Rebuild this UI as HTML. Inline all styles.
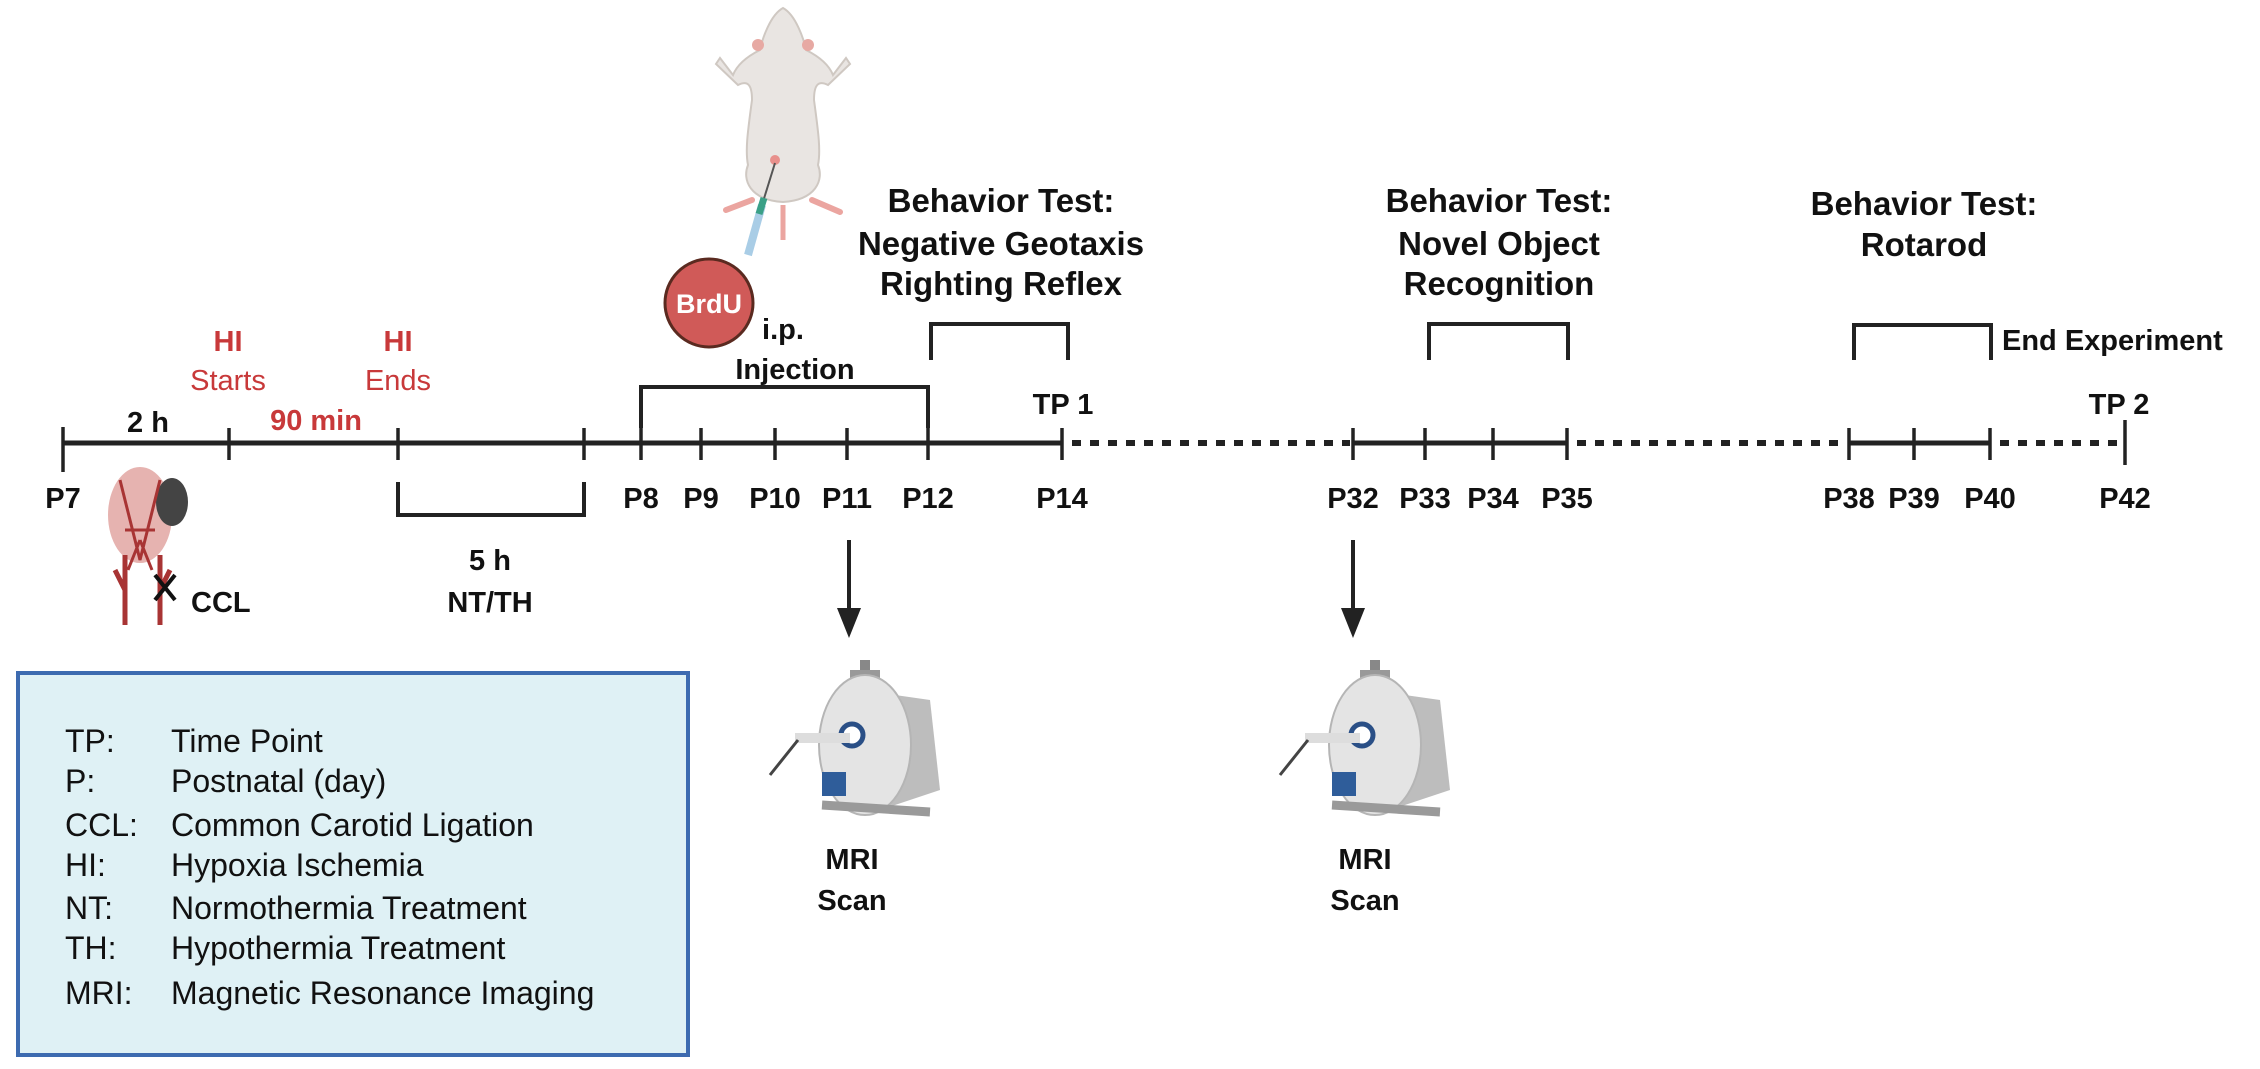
<!DOCTYPE html>
<html><head><meta charset="utf-8"><style>
html,body{margin:0;padding:0;background:#fff;}
svg{display:block;}
text{font-family:"Liberation Sans",sans-serif;}
.b{font-weight:bold;fill:#111;}
.r{fill:#c8393a;}
</style></head><body>
<svg width="2260" height="1069" viewBox="0 0 2260 1069" xmlns="http://www.w3.org/2000/svg">
<g stroke="#222" stroke-width="5" fill="none">
<line x1="63" y1="443" x2="1062" y2="443"/>
<line x1="1353" y1="443" x2="1567" y2="443"/>
<line x1="1849" y1="443" x2="1990" y2="443"/>
</g>
<g stroke="#222" stroke-width="6" stroke-dasharray="9 9" fill="none">
<line x1="1072" y1="443" x2="1350" y2="443"/>
<line x1="1577" y1="443" x2="1846" y2="443"/>
<line x1="2000" y1="443" x2="2120" y2="443"/>
</g>
<g stroke="#222" stroke-width="3.5">
<line x1="63" y1="427" x2="63" y2="472"/>
<line x1="229" y1="428" x2="229" y2="460"/>
<line x1="398" y1="428" x2="398" y2="460"/>
<line x1="584" y1="428" x2="584" y2="460"/>
<line x1="641" y1="428" x2="641" y2="460"/>
<line x1="701" y1="428" x2="701" y2="460"/>
<line x1="775" y1="428" x2="775" y2="460"/>
<line x1="847" y1="428" x2="847" y2="460"/>
<line x1="928" y1="428" x2="928" y2="460"/>
<line x1="1062" y1="428" x2="1062" y2="460"/>
<line x1="1353" y1="428" x2="1353" y2="460"/>
<line x1="1425" y1="428" x2="1425" y2="460"/>
<line x1="1493" y1="428" x2="1493" y2="460"/>
<line x1="1567" y1="428" x2="1567" y2="460"/>
<line x1="1849" y1="428" x2="1849" y2="460"/>
<line x1="1914" y1="428" x2="1914" y2="460"/>
<line x1="1990" y1="428" x2="1990" y2="460"/>
<line x1="2125" y1="420" x2="2125" y2="465"/>
</g>
<g stroke="#222" stroke-width="4" fill="none">
<polyline points="398,482 398,515 584,515 584,482"/>
<polyline points="641,428 641,387 928,387 928,428"/>
<polyline points="931,360 931,324 1068,324 1068,360"/>
<polyline points="1429,360 1429,324 1568,324 1568,360"/>
<polyline points="1854,360 1854,325 1991,325 1991,360"/>
</g>
<g class="b" font-size="29" text-anchor="middle">
<text x="63" y="508">P7</text>
<text x="641" y="508">P8</text>
<text x="701" y="508">P9</text>
<text x="775" y="508">P10</text>
<text x="847" y="508">P11</text>
<text x="928" y="508">P12</text>
<text x="1062" y="508">P14</text>
<text x="1353" y="508">P32</text>
<text x="1425" y="508">P33</text>
<text x="1493" y="508">P34</text>
<text x="1567" y="508">P35</text>
<text x="1849" y="508">P38</text>
<text x="1914" y="508">P39</text>
<text x="1990" y="508">P40</text>
<text x="2125" y="508">P42</text>
<text x="148" y="432">2 h</text>
<text x="490" y="570">5 h</text>
<text x="490" y="612">NT/TH</text>
<text x="1063" y="414">TP 1</text>
<text x="2119" y="414">TP 2</text>
<text x="852" y="869">MRI</text>
<text x="852" y="910">Scan</text>
<text x="1365" y="869">MRI</text>
<text x="1365" y="910">Scan</text>
<text x="783" y="339">i.p.</text>
<text x="795" y="379">Injection</text>
</g>
<text class="b" font-size="29" x="191" y="612">CCL</text>
<text class="b" font-size="29" x="2002" y="350">End Experiment</text>
<g class="b" font-size="33" text-anchor="middle">
<text x="1001" y="212">Behavior Test:</text>
<text x="1001" y="255">Negative Geotaxis</text>
<text x="1001" y="295">Righting Reflex</text>
<text x="1499" y="212">Behavior Test:</text>
<text x="1499" y="255">Novel Object</text>
<text x="1499" y="295">Recognition</text>
<text x="1924" y="215">Behavior Test:</text>
<text x="1924" y="256">Rotarod</text>
</g>
<g class="r" text-anchor="middle" font-size="29">
<text x="228" y="351" font-weight="bold">HI</text>
<text x="228" y="390">Starts</text>
<text x="398" y="351" font-weight="bold">HI</text>
<text x="398" y="390">Ends</text>
<text x="316" y="430" font-weight="bold">90 min</text>
</g>
<circle cx="709" cy="303" r="44" fill="#d05a58" stroke="#5a2a20" stroke-width="3"/>
<text x="709" y="313" text-anchor="middle" font-size="27" font-weight="bold" fill="#fff">BrdU</text>
<g>
<path d="M752,200 L726,210 M812,200 L840,212" stroke="#eba5a0" stroke-width="6" stroke-linecap="round"/>
<line x1="783" y1="205" x2="783" y2="240" stroke="#eba5a0" stroke-width="5"/>
<path d="M783,8 C770,15 762,40 760,50 C740,60 735,70 733,75 L720,58 L716,64 L738,85 C748,80 752,85 752,100 C748,130 745,150 748,165 C742,180 750,200 783,202 C816,200 824,180 818,165 C821,150 818,130 814,100 C814,85 818,80 828,85 L850,64 L846,58 L833,75 C831,70 826,60 806,50 C804,40 796,15 783,8 Z" fill="#e9e5e2" stroke="#cfc8c2" stroke-width="2"/>
<circle cx="758" cy="45" r="6" fill="#e7a9a3"/><circle cx="808" cy="45" r="6" fill="#e7a9a3"/>
<circle cx="775" cy="160" r="5" fill="#e8908c"/>
<line x1="775" y1="163" x2="762" y2="205" stroke="#555" stroke-width="2"/>
<line x1="762" y1="205" x2="748" y2="255" stroke="#a9cde6" stroke-width="8"/>
<line x1="764" y1="198" x2="759" y2="214" stroke="#3aa087" stroke-width="7"/>
</g>
<g>
<ellipse cx="140" cy="515" rx="32" ry="48" fill="#e6b3b0"/>
<ellipse cx="172" cy="502" rx="16" ry="24" fill="#444"/>
<path d="M120,480 L140,560 L160,480 M125,530 L155,530 M140,540 L128,570 M140,540 L152,570" stroke="#a83434" stroke-width="3" fill="none"/>
<path d="M125,555 L125,625 M160,555 L160,625 M125,590 L115,570 M160,590 L170,570" stroke="#a83434" stroke-width="5" fill="none"/>
<path d="M155,575 L175,600 M175,575 L155,600" stroke="#111" stroke-width="4"/>
</g>
<g stroke="#222" stroke-width="4"><line x1="849" y1="540" x2="849" y2="612"/><line x1="1353" y1="540" x2="1353" y2="612"/></g>
<polygon points="837,608 861,608 849,638" fill="#222"/>
<polygon points="1341,608 1365,608 1353,638" fill="#222"/>
<g id="mri">
<rect x="860" y="660" width="10" height="30" fill="#888"/>
<rect x="850" y="670" width="30" height="14" fill="#999"/>
<path d="M860,690 L930,700 L940,790 L880,810 Z" fill="#bdbdbd"/>
<ellipse cx="865" cy="745" rx="46" ry="70" fill="#e4e4e4" stroke="#b5b5b5" stroke-width="2"/>
<circle cx="852" cy="735" r="11" fill="#fff" stroke="#2a4f86" stroke-width="5"/>
<rect x="795" y="733" width="55" height="10" fill="#ddd"/>
<line x1="798" y1="740" x2="770" y2="775" stroke="#444" stroke-width="3"/>
<rect x="822" y="772" width="24" height="24" fill="#2f5d9a"/>
<path d="M822,805 L930,812" stroke="#9a9a9a" stroke-width="9"/>
</g>
<use href="#mri" transform="translate(510,0)"/>
<rect x="18" y="673" width="670" height="382" fill="#dff1f5" stroke="#3d6bb0" stroke-width="4"/>
<g font-size="32" fill="#111">
<text x="65" y="752">TP:</text><text x="171" y="752">Time Point</text>
<text x="65" y="792">P:</text><text x="171" y="792">Postnatal (day)</text>
<text x="65" y="836">CCL:</text><text x="171" y="836">Common Carotid Ligation</text>
<text x="65" y="876">HI:</text><text x="171" y="876">Hypoxia Ischemia</text>
<text x="65" y="919">NT:</text><text x="171" y="919">Normothermia Treatment</text>
<text x="65" y="959">TH:</text><text x="171" y="959">Hypothermia Treatment</text>
<text x="65" y="1004">MRI:</text><text x="171" y="1004">Magnetic Resonance Imaging</text>
</g>
</svg>
</body></html>
